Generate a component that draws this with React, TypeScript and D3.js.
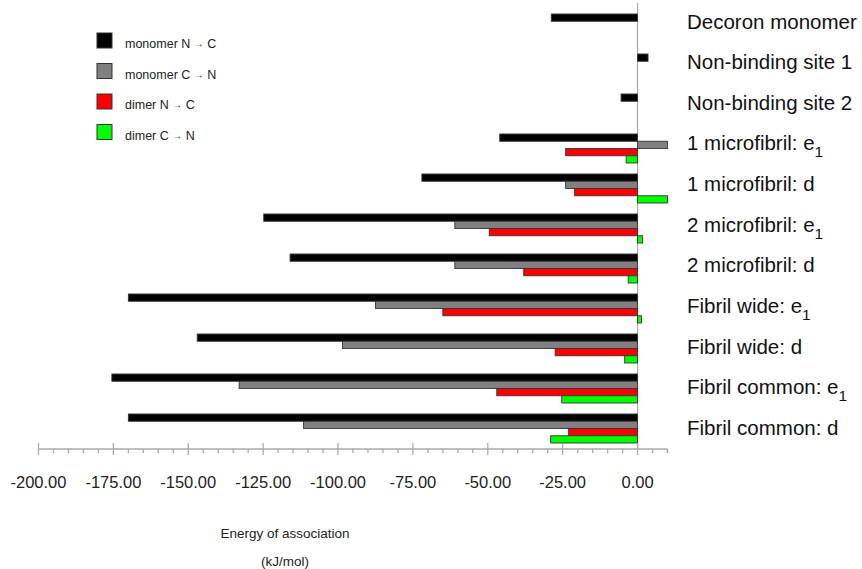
import React, { useEffect, useRef } from "react";
import * as d3 from "d3";

const categories = [
  "Decoron monomer",
  "Non-binding site 1",
  "Non-binding site 2",
  "1 microfibril: e",
  "1 microfibril: d",
  "2 microfibril: e",
  "2 microfibril: d",
  "Fibril wide: e",
  "Fibril wide: d",
  "Fibril common: e",
  "Fibril common: d",
];
// subscript that follows each category label ("" = none)
const subscripts = ["", "", "", "1", "", "1", "", "1", "", "1", ""];

const monomerNC = [-28.8, 3.5, -5.5, -46, -72, -124.8, -116, -170, -147, -175.5, -170];
const monomerCN = [0, 0, 0, 10, -24, -61, -61, -87.5, -98.5, -133, -111.5];
const dimerNC = [0, 0, 0, -24, -21, -49.5, -38, -65, -27.5, -47, -23];
const dimerCN = [0, 0, 0, -3.8, 10, 1.7, -3.1, 1.3, -4.3, -25.3, -29];

const seriesNames = ["monomer N", "monomer C", "dimer N", "dimer C"];
const seriesEnds = ["C", "N", "C", "N"];
const seriesColors = ["#000000", "#808080", "#ff0000", "#00ff00"];
const seriesValues = [monomerNC, monomerCN, dimerNC, dimerCN];

const majorTicks = [-200, -175, -150, -125, -100, -75, -50, -25, 0];

function drawChart(el: SVGSVGElement) {
  const svg = d3.select(el);
  svg.selectAll("*").remove();
  const font = "'Liberation Sans', Arial, sans-serif";

  const x = d3.scaleLinear().domain([-200, 10]).range([38.5, 667.5]);
  const y = d3
    .scaleBand()
    .domain(categories)
    .range([8.5, 448.5])
    .paddingInner(0.275)
    .paddingOuter(0.1375);
  const sub = d3
    .scaleBand()
    .domain(seriesNames)
    .range([0, y.bandwidth()]);
  const labelY = d3.scalePoint().domain(categories).range([21.5, 428]);
  const axisY = 449;

  // zero line
  svg
    .append("line")
    .attr("x1", x(0))
    .attr("x2", x(0))
    .attr("y1", 3)
    .attr("y2", axisY)
    .attr("stroke", "#aaa")
    .attr("stroke-width", 1.2);

  // bars
  seriesValues.forEach((vals, s) => {
    const rows = vals
      .map((v, i) => ({ v, cat: categories[i] }))
      .filter((d) => d.v !== 0);
    svg
      .append("g")
      .selectAll("rect")
      .data(rows)
      .enter()
      .append("rect")
      .attr("x", (d) => x(Math.min(0, d.v)))
      .attr("width", (d) => Math.abs(x(d.v) - x(0)))
      .attr("y", (d) => (y(d.cat) as number) + (sub(seriesNames[s]) as number))
      .attr("height", sub.bandwidth())
      .attr("fill", seriesColors[s])
      .attr("stroke", "#333")
      .attr("stroke-width", 0.9);
  });

  // x axis
  const axis = svg.append("g").attr("stroke", "#aaa").attr("stroke-width", 1.3);
  axis
    .append("line")
    .attr("x1", x(-200))
    .attr("x2", x(10))
    .attr("y1", axisY)
    .attr("y2", axisY);
  axis
    .selectAll(".minor")
    .data(d3.range(-195, 11, 5).filter((v) => v % 25 !== 0))
    .enter()
    .append("line")
    .attr("x1", (d) => x(d))
    .attr("x2", (d) => x(d))
    .attr("y1", axisY)
    .attr("y2", axisY + 4);
  axis
    .selectAll(".major")
    .data(majorTicks)
    .enter()
    .append("line")
    .attr("x1", (d) => x(d))
    .attr("x2", (d) => x(d))
    .attr("y1", axisY - 6)
    .attr("y2", axisY + 6);
  // outer end tick at +10
  axis
    .append("line")
    .attr("x1", x(10))
    .attr("x2", x(10))
    .attr("y1", axisY)
    .attr("y2", axisY + 4);

  svg
    .append("g")
    .selectAll("text")
    .data(majorTicks)
    .enter()
    .append("text")
    .attr("x", (d) => x(d))
    .attr("y", axisY + 39)
    .attr("text-anchor", "middle")
    .attr("font-family", font)
    .attr("font-size", 16.5)
    .attr("fill", "#222")
    .text((d) => d3.format(".2f")(d).replace("−", "-"));

  // axis title
  svg
    .append("text")
    .attr("x", 285)
    .attr("y", 538)
    .attr("text-anchor", "middle")
    .attr("font-family", font)
    .attr("font-size", 13.5)
    .attr("fill", "#222")
    .text("Energy of association");
  svg
    .append("text")
    .attr("x", 285)
    .attr("y", 566)
    .attr("text-anchor", "middle")
    .attr("font-family", font)
    .attr("font-size", 13.5)
    .attr("fill", "#222")
    .text("(kJ/mol)");

  // category labels on the right
  const labels = svg
    .append("g")
    .selectAll("text")
    .data(categories)
    .enter()
    .append("text")
    .attr("x", 687)
    .attr("y", (d) => (labelY(d) as number) + 7)
    .attr("font-family", font)
    .attr("font-size", 20.5)
    .attr("fill", "#111");
  labels.append("tspan").text((d) => d);
  labels
    .filter((d, i) => subscripts[i] !== "")
    .append("tspan")
    .attr("dy", 7)
    .attr("font-size", 15.5)
    .text((d) => subscripts[categories.indexOf(d)]);

  // legend
  const legend = svg
    .append("g")
    .selectAll("g")
    .data(seriesNames)
    .enter()
    .append("g")
    .attr("transform", (d, i) => `translate(97, ${33 + i * 30.5})`);
  legend
    .append("rect")
    .attr("width", 15)
    .attr("height", 15)
    .attr("fill", (d, i) => seriesColors[i])
    .attr("stroke", "#333")
    .attr("stroke-width", 1);
  const lt = legend
    .append("text")
    .attr("x", 28)
    .attr("y", 15)
    .attr("font-family", font)
    .attr("font-size", 12.5)
    .attr("fill", "#222");
  lt.append("tspan").text((d) => d + " ");
  lt.append("tspan").attr("font-size", 10).attr("dy", -1).text("\u2192");
  lt.append("tspan").attr("dy", 1).text((d, i) => " " + seriesEnds[i]);
}

export default function App() {
  const ref = useRef<SVGSVGElement>(null);
  useEffect(() => {
    document.body.style.margin = "0";
    if (ref.current) drawChart(ref.current);
  }, []);
  return (
    <div>
      <svg ref={ref} width={862} height={569} style={{ display: "block", background: "#fff" }} />
    </div>
  );
}
